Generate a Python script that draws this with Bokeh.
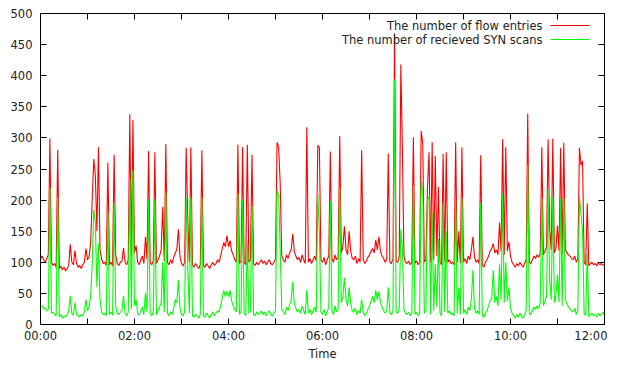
from bokeh.plotting import figure
from bokeh.models import Range1d, FixedTicker, LinearAxis, Label, Arrow
from bokeh.embed import file_html
from bokeh.resources import INLINE

# time in minutes since 00:00, sampled every 2 minutes
minutes = list(range(0, 721, 2))

flow_entries = [
    105, 110, 104, 100, 106, 112, 299, 100, 95, 98, 92, 281, 90, 94, 88, 92, 86, 90, 95, 129,
    100, 96, 119, 98, 92, 95, 90, 96, 100, 122, 104, 108, 130, 200, 266, 240, 150, 285, 120, 105,
    98, 100, 95, 260, 96, 100, 94, 273, 112, 98, 95, 100, 102, 123, 100, 96, 104, 338, 110, 329,
    115, 127, 100, 96, 104, 110, 98, 141, 105, 279, 100, 96, 102, 277, 98, 104, 110, 120, 189, 102,
    290, 100, 96, 104, 98, 108, 115, 120, 153, 110, 98, 94, 100, 284, 172, 100, 285, 96, 92, 98,
    94, 90, 96, 280, 95, 92, 98, 94, 90, 96, 100, 95, 98, 104, 100, 110, 122, 132, 125, 143,
    125, 135, 118, 112, 104, 100, 289, 98, 102, 285, 100, 96, 289, 100, 104, 273, 98, 95, 100, 96,
    100, 104, 98, 102, 96, 100, 104, 98, 96, 100, 105, 293, 285, 228, 110, 104, 100, 112, 106, 115,
    120, 146, 118, 110, 104, 108, 100, 112, 104, 98, 317, 100, 106, 98, 104, 110, 102, 288, 285, 104,
    100, 108, 96, 104, 110, 278, 106, 100, 112, 104, 108, 303, 115, 125, 158, 120, 112, 150, 118, 106,
    104, 110, 98, 106, 100, 280, 104, 98, 102, 108, 112, 118, 122, 115, 136, 120, 141, 118, 110, 106,
    100, 104, 275, 100, 98, 106, 468, 102, 100, 110, 418, 280, 110, 100, 98, 102, 96, 100, 301, 98,
    102, 96, 100, 311, 291, 100, 104, 220, 277, 100, 293, 104, 271, 110, 221, 100, 96, 274, 102, 277,
    100, 104, 98, 100, 96, 293, 100, 150, 98, 285, 100, 106, 98, 110, 104, 120, 141, 108, 100, 104,
    98, 272, 96, 92, 100, 104, 110, 118, 122, 130, 115, 120, 112, 164, 118, 298, 112, 285, 118, 133,
    110, 100, 96, 92, 98, 94, 100, 96, 92, 98, 104, 339, 100, 98, 104, 110, 106, 112, 108, 115,
    285, 112, 118, 125, 298, 154, 120, 299, 115, 122, 159, 118, 284, 112, 292, 120, 116, 112, 110, 106,
    104, 110, 100, 106, 284, 256, 263, 100, 96, 195, 94, 98, 100, 96, 98, 94, 100, 96, 98, 95,
    97,
]

syn_scans = [
    28, 30, 25, 27, 22, 24, 220, 18, 20, 16, 14, 204, 12, 16, 10, 14, 12, 16, 20, 46,
    18, 15, 35, 16, 14, 12, 16, 14, 20, 40, 22, 28, 45, 95, 185, 165, 60, 130, 40, 20,
    16, 18, 14, 180, 16, 20, 15, 195, 30, 18, 16, 20, 22, 46, 18, 14, 20, 234, 25, 248,
    30, 40, 18, 15, 22, 28, 16, 51, 20, 201, 18, 14, 20, 201, 16, 22, 28, 35, 100, 20,
    212, 18, 14, 20, 16, 25, 40, 35, 72, 28, 16, 14, 20, 204, 90, 18, 204, 14, 12, 16,
    14, 10, 16, 204, 14, 12, 18, 14, 10, 16, 20, 14, 18, 22, 20, 30, 42, 55, 45, 53,
    45, 55, 38, 30, 24, 20, 210, 16, 20, 200, 18, 14, 135, 18, 22, 190, 16, 14, 20, 16,
    18, 22, 16, 20, 14, 18, 22, 16, 14, 18, 22, 216, 208, 120, 25, 20, 16, 28, 22, 32,
    38, 69, 34, 26, 20, 24, 18, 30, 22, 16, 56, 18, 24, 16, 22, 28, 20, 210, 150, 20,
    16, 24, 14, 20, 28, 198, 22, 16, 30, 20, 24, 220, 35, 45, 75, 40, 30, 60, 35, 22,
    20, 26, 16, 22, 18, 40, 20, 14, 18, 24, 30, 38, 45, 35, 55, 40, 53, 36, 28, 22,
    18, 22, 60, 18, 16, 22, 394, 20, 18, 26, 154, 120, 24, 18, 16, 20, 14, 18, 223, 16,
    20, 14, 18, 232, 210, 18, 22, 200, 206, 16, 180, 22, 97, 28, 138, 18, 14, 195, 20, 150,
    18, 22, 16, 18, 14, 200, 18, 60, 16, 203, 18, 24, 16, 28, 22, 40, 87, 26, 18, 22,
    16, 195, 14, 12, 18, 22, 30, 38, 42, 87, 35, 45, 30, 97, 40, 210, 35, 100, 38, 60,
    28, 18, 14, 10, 16, 12, 18, 14, 10, 16, 22, 257, 18, 16, 22, 28, 24, 30, 26, 35,
    203, 30, 38, 45, 217, 71, 40, 205, 35, 48, 80, 36, 203, 30, 203, 40, 34, 28, 25, 22,
    20, 26, 16, 22, 206, 177, 150, 18, 14, 115, 12, 16, 18, 14, 16, 12, 18, 14, 16, 20,
    15,
]

x_tick_minutes = list(range(0, 721, 60))
x_tick_labels = ["00:00", "", "02:00", "", "04:00", "", "06:00", "", "08:00", "", "10:00", "", "12:00"]
y_ticks = list(range(0, 501, 50))

series_names = ["The number of flow entries", "The number of recieved SYN scans"]
series_colors = ["#ff0000", "#00ff00"]

FONT = "DejaVu Sans"
TXT = "#222222"
FS = "11.5px"

W, H = 607, 364
B_LEFT, B_RIGHT, B_TOP, B_BOTTOM = 40, 3, 13, 40

p = figure(width=W, height=H, output_backend="svg", toolbar_location=None,
           x_range=Range1d(0, 720), y_range=Range1d(0, 500),
           min_border_left=B_LEFT, min_border_right=B_RIGHT,
           min_border_top=B_TOP, min_border_bottom=B_BOTTOM,
           x_axis_label="Time")
p.background_fill_color = "white"
p.border_fill_color = "white"
p.outline_line_color = "black"
p.outline_line_width = 1
p.grid.visible = False

p.line(minutes, flow_entries, line_color=series_colors[0], line_width=1.1)
p.line(minutes, syn_scans, line_color=series_colors[1], line_width=1.1)


def style(ax, ticks):
    ax.ticker = FixedTicker(ticks=ticks)
    ax.major_tick_in = 6
    ax.major_tick_out = 0
    ax.minor_tick_line_color = None
    ax.axis_line_color = "black"
    ax.major_tick_line_color = "black"
    ax.major_label_text_font = FONT
    ax.major_label_text_font_size = FS
    ax.major_label_text_color = TXT


xa = p.xaxis[0]
style(xa, x_tick_minutes)
xa.major_label_overrides = {m: lab for m, lab in zip(x_tick_minutes, x_tick_labels)}
xa.major_label_standoff = 4
xa.axis_label_text_font = FONT
xa.axis_label_text_font_size = FS
xa.axis_label_text_font_style = "normal"
xa.axis_label_text_color = TXT
xa.axis_label_standoff = 1

ya = p.yaxis[0]
style(ya, y_ticks)
ya.major_label_standoff = 8

# mirrored tick marks on top and right (no labels)
top = LinearAxis()
style(top, x_tick_minutes)
top.major_label_overrides = {m: "" for m in x_tick_minutes}
top.major_label_standoff = 0
p.add_layout(top, "above")
right = LinearAxis()
style(right, y_ticks)
right.major_label_overrides = {t: "" for t in y_ticks}
right.major_label_standoff = 0
p.add_layout(right, "right")

# gnuplot-style key: text right-aligned, sample line on its right
frame_h = H - B_TOP - B_BOTTOM
for k, (name, col) in enumerate(zip(series_names, series_colors)):
    yy = frame_h - 12 - 14 * k
    p.add_layout(Label(x=502, y=yy, x_units="screen", y_units="screen", text=name,
                       text_align="right", text_baseline="middle", text_font=FONT,
                       text_font_size=FS, text_color=TXT))
    p.add_layout(Arrow(x_start=510, y_start=yy, x_end=549, y_end=yy,
                       start_units="screen", end_units="screen", end=None, start=None,
                       line_color=col, line_width=1))

open("out.html", "w").write(file_html(p, INLINE))
